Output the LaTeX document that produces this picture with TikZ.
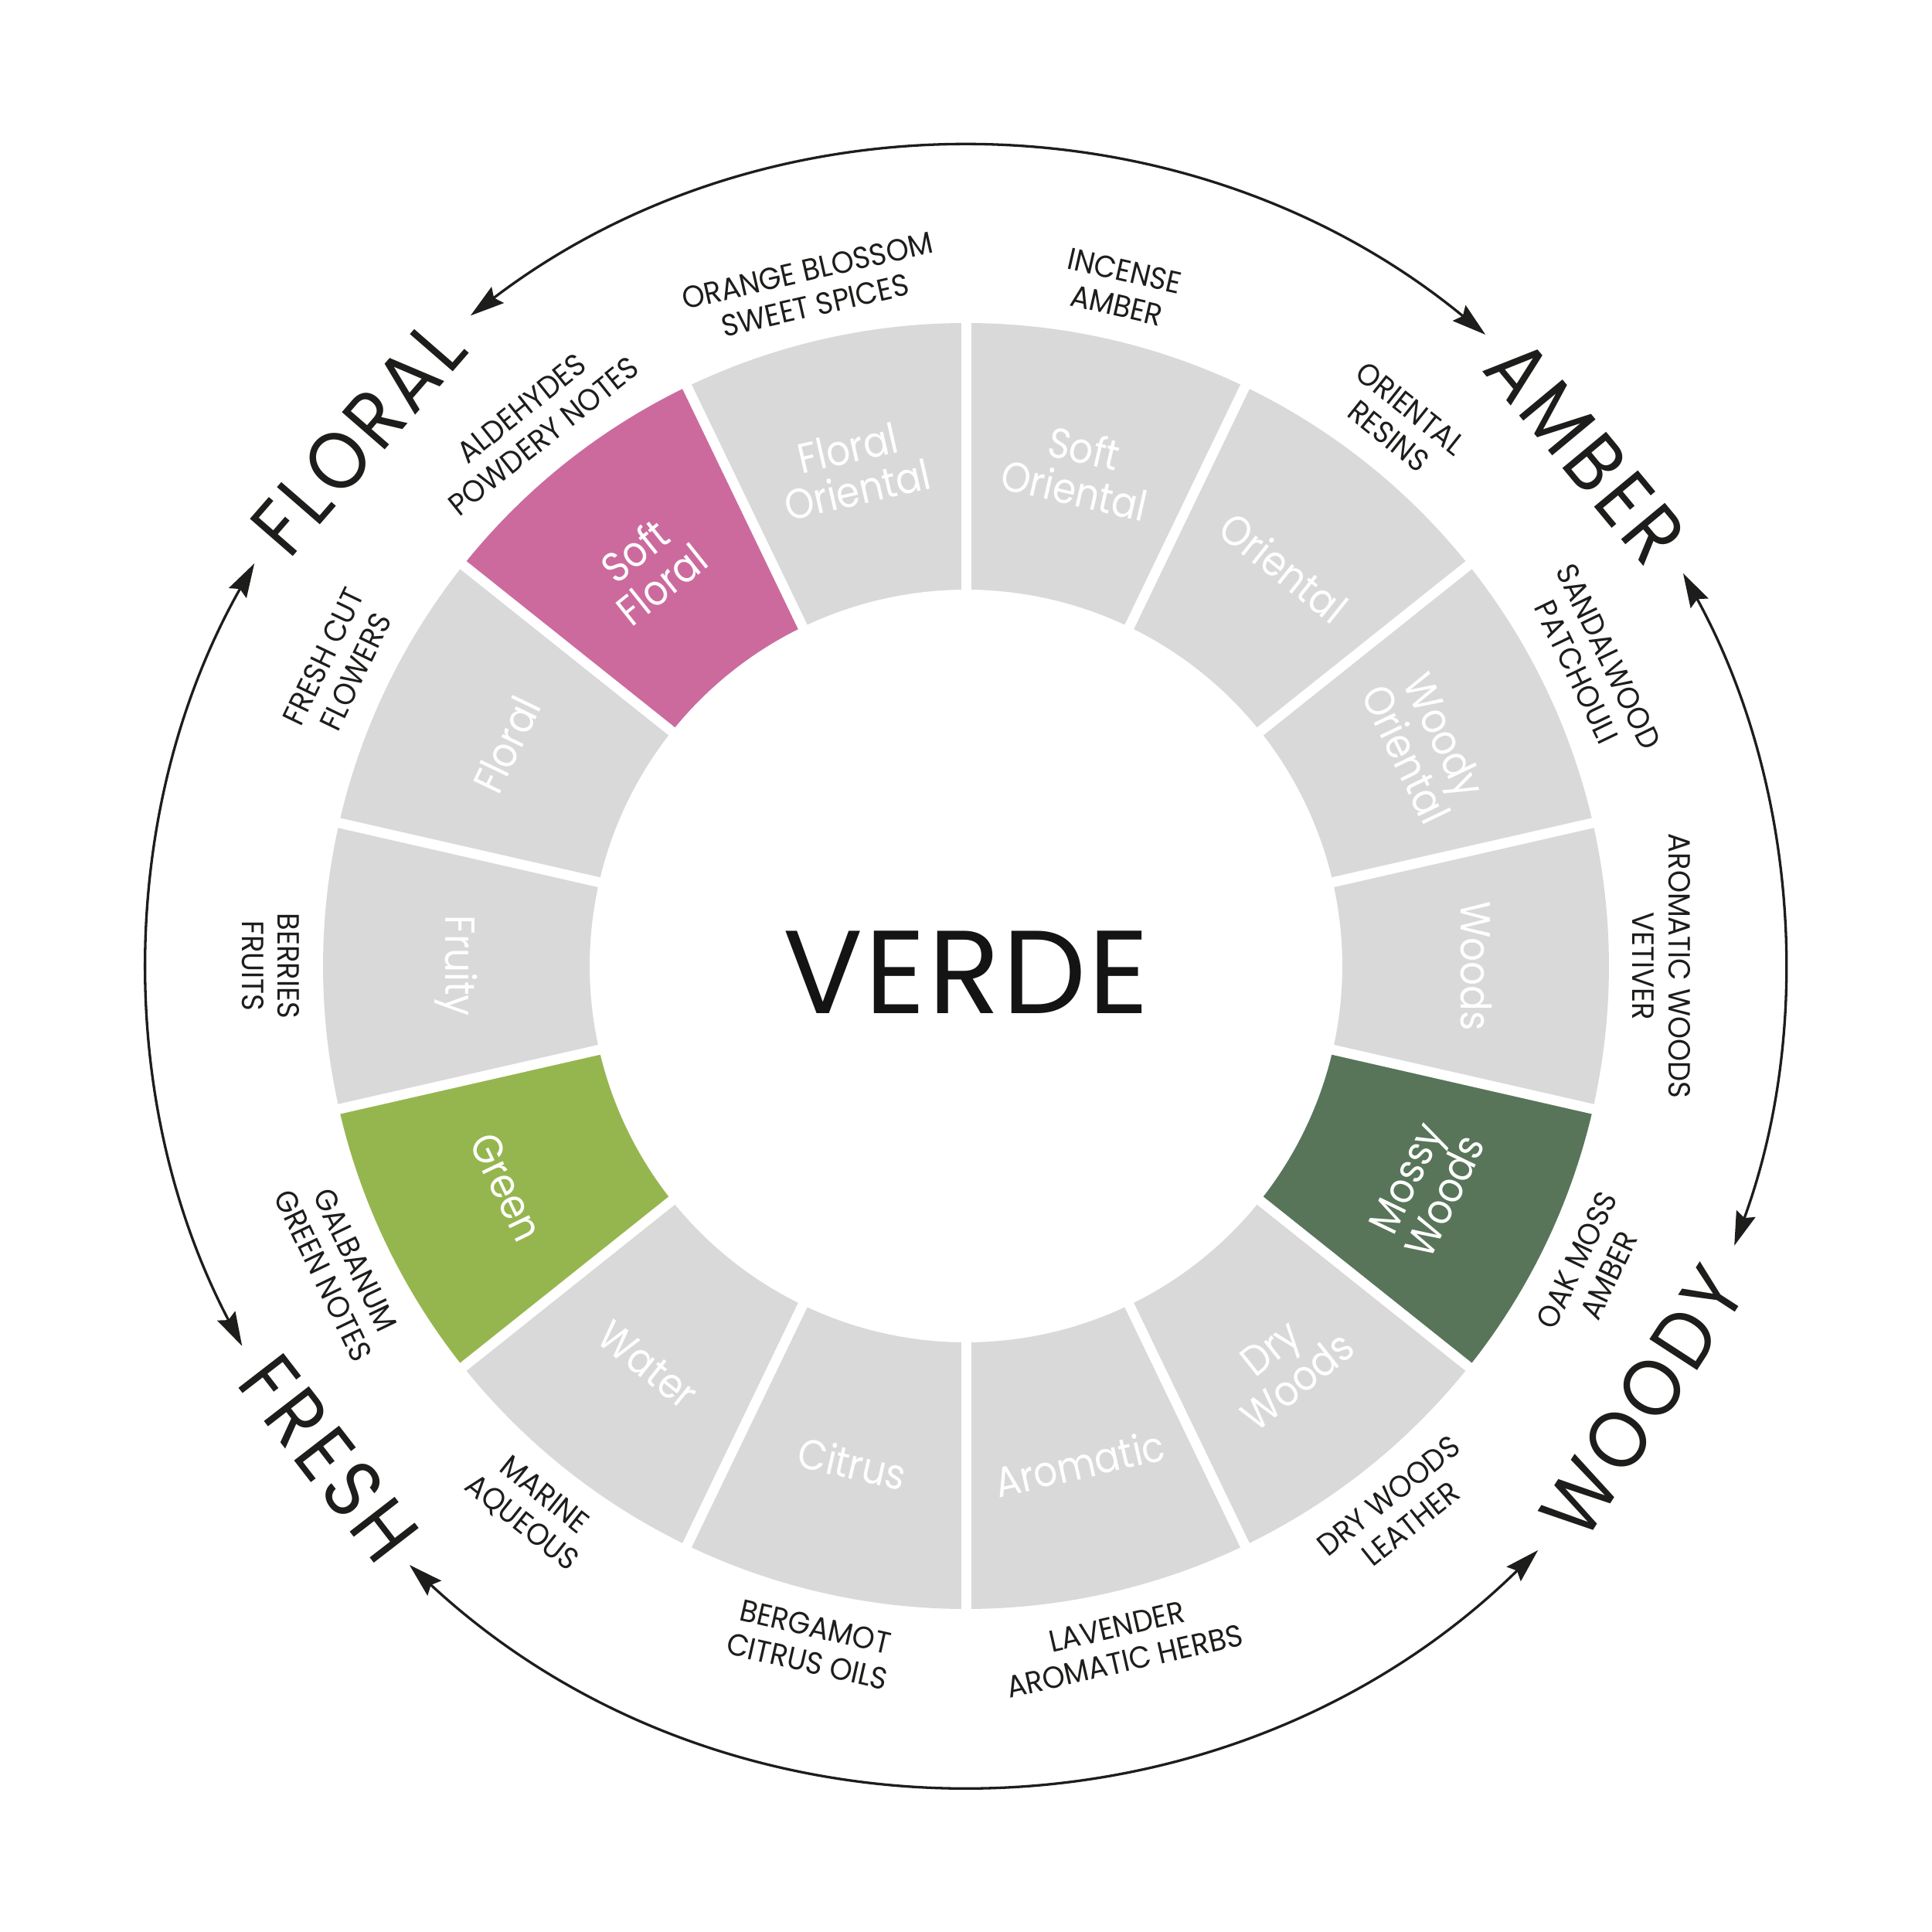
\documentclass[tikz,border=0pt]{standalone}
\usepackage{fontspec}
\setmainfont[FakeStretch=0.89]{Poppins}
\newfontfamily\outfont[FakeStretch=0.93]{Poppins}
\newfontfamily\catfont[FakeStretch=0.9,LetterSpace=6]{Poppins}
\newfontfamily\verdefont[LetterSpace=2]{Poppins}
\usetikzlibrary{arrows.meta}
\definecolor{seggray}{HTML}{D9D9D9}
\definecolor{softfloral}{HTML}{CC6A9E}
\definecolor{greenseg}{HTML}{95B64E}
\definecolor{mossy}{HTML}{58755A}
\definecolor{ink}{HTML}{1D1D1B}
\tikzset{
  seglabel/.style={text=white, align=center, inner sep=0pt, font=\fontsize{15.5}{15.8}\selectfont},
  outlabel/.style={text=ink, align=center, inner sep=0pt, font=\outfont\fontsize{11.3}{13.1}\selectfont},
  catlabel/.style={text=ink, inner sep=0pt, font=\catfont\fontsize{30}{34}\selectfont},
  wheelarrow/.style={draw=ink, line width=0.033cm, {Stealth[length=0.44cm,width=0.26cm,inset=0.06cm]}-{Stealth[length=0.44cm,width=0.26cm,inset=0.06cm]}},
  gapline/.style={draw=white, line width=0.13cm}
}
\newcommand{\wheelsector}[3]{%
  \fill[#3] (#1:4.87) arc[start angle=#1, end angle=#2, radius=4.87] -- (#2:8.32) arc[start angle=#2, end angle=#1, radius=8.32] -- cycle;}
\begin{document}
\begin{tikzpicture}
\useasboundingbox (-12.5,-12.5) rectangle (12.5,12.5);
\fill[white] (-12.5,-12.5) rectangle (12.5,12.5);

% sectors
\foreach \i in {0,...,13} {
  \pgfmathsetmacro\aa{90-\i*360/14}
  \pgfmathsetmacro\ab{\aa-360/14}
  \wheelsector{\aa}{\ab}{seggray}
}
\wheelsector{-12.857}{-38.571}{mossy}
\wheelsector{-141.429}{-167.143}{greenseg}
\wheelsector{-218.571}{-244.286}{softfloral}

% gaps
\foreach \k in {0,...,13} {
  \draw[gapline] ({90-\k*360/14}:4.6) -- ({90-\k*360/14}:8.6);
}

% centre
\node[text=black!92, inner sep=0pt, anchor=base, font=\verdefont\fontsize{43.5}{50}\selectfont] (verde) at (0,-0.61) {VERDE};

% segment labels
\node[seglabel, rotate=-12.857] (s0) at (77.143:6.6) {Soft\\Oriental};
\node[seglabel, rotate=-38.571] (s1) at (51.429:6.6) {Oriental};
\node[seglabel, rotate=-64.286] (s2) at (25.714:6.6) {Woody\\Oriental};
\node[seglabel, rotate=-90] (s3) at (0:6.6) {Woods};
\node[seglabel, rotate=64.286] (s4) at (-25.714:6.6) {Mossy\\Woods};
\node[seglabel, rotate=38.571] (s5) at (-51.429:6.6) {Dry\\Woods};
\node[seglabel, rotate=12.857] (s6) at (-77.143:6.6) {Aromatic};
\node[seglabel, rotate=-12.857] (s7) at (-102.857:6.6) {Citrus};
\node[seglabel, rotate=-38.571] (s8) at (-128.571:6.6) {Water};
\node[seglabel, rotate=-64.286] (s9) at (-154.286:6.6) {Green};
\node[seglabel, rotate=-90] (s10) at (180:6.6) {Fruity};
\node[seglabel, rotate=64.286] (s11) at (154.286:6.6) {Floral};
\node[seglabel, rotate=38.571] (s12) at (128.571:6.6) {Soft\\Floral};
\node[seglabel, rotate=12.857] (s13) at (102.857:6.6) {Floral\\Oriental};

% outer labels
\node[outlabel, rotate=-12.857] (o0) at (77.143:9.0) {INCENSE\\AMBER};
\node[outlabel, rotate=-38.571] (o1) at (51.429:9.0) {ORIENTAL\\RESINS};
\node[outlabel, rotate=-64.286] (o2) at (25.714:9.0) {SANDALWOOD\\PATCHOULI};
\node[outlabel, rotate=-90] (o3) at (0:9.0) {AROMATIC WOODS\\VETIVER};
\node[outlabel, rotate=64.286] (o4) at (-25.714:9.0) {OAK MOSS\\AMBER};
\node[outlabel, rotate=38.571] (o5) at (-51.429:9.0) {DRY WOODS\\LEATHER};
\node[outlabel, rotate=12.857] (o6) at (-77.143:9.0) {LAVENDER\\AROMATIC HERBS};
\node[outlabel, rotate=-12.857] (o7) at (-102.857:9.0) {BERGAMOT\\CITRUS OILS};
\node[outlabel, rotate=-38.571] (o8) at (-128.571:9.0) {MARINE\\AQUEOUS};
\node[outlabel, rotate=-64.286] (o9) at (-154.286:9.0) {GALBANUM\\GREEN NOTES};
\node[outlabel, rotate=-90] (o10) at (180:9.0) {BERRIES\\FRUITS};
\node[outlabel, rotate=64.286] (o11) at (154.286:9.0) {FRESH CUT\\FLOWERS};
\node[outlabel, rotate=38.571] (o12) at (128.571:9.0) {ALDEHYDES\\POWDERY NOTES};
\node[outlabel, rotate=12.857] (o13) at (102.857:9.0) {ORANGE BLOSSOM\\SWEET SPICES};

% category labels
\node[catlabel, rotate=49] (floral) at (139:10.42) {FLORAL};
\node[catlabel, rotate=-50.3] (amber) at (39.7:10.42) {AMBER};
\node[catlabel, rotate=57] (woody) at (327.2:10.42) {WOODY};
\node[catlabel, rotate=-52.3] (fresh) at (217.7:10.42) {FRESH};

% arrow arcs
\coordinate (top1) at (127.3:10.58);
\coordinate (right1) at (28.7:10.58);
\coordinate (bot1) at (-45.6:10.58);
\coordinate (left1) at (207.7:10.58);
\draw[wheelarrow] (top1) arc[start angle=127.3, end angle=50.55, radius=10.58];
\draw[wheelarrow] (right1) arc[start angle=28.7, end angle=-20.0, radius=10.58];
\draw[wheelarrow] (bot1) arc[start angle=-45.6, end angle=-132.9, radius=10.58];
\draw[wheelarrow] (left1) arc[start angle=207.7, end angle=150.5, radius=10.58];
\end{tikzpicture}
\end{document}
